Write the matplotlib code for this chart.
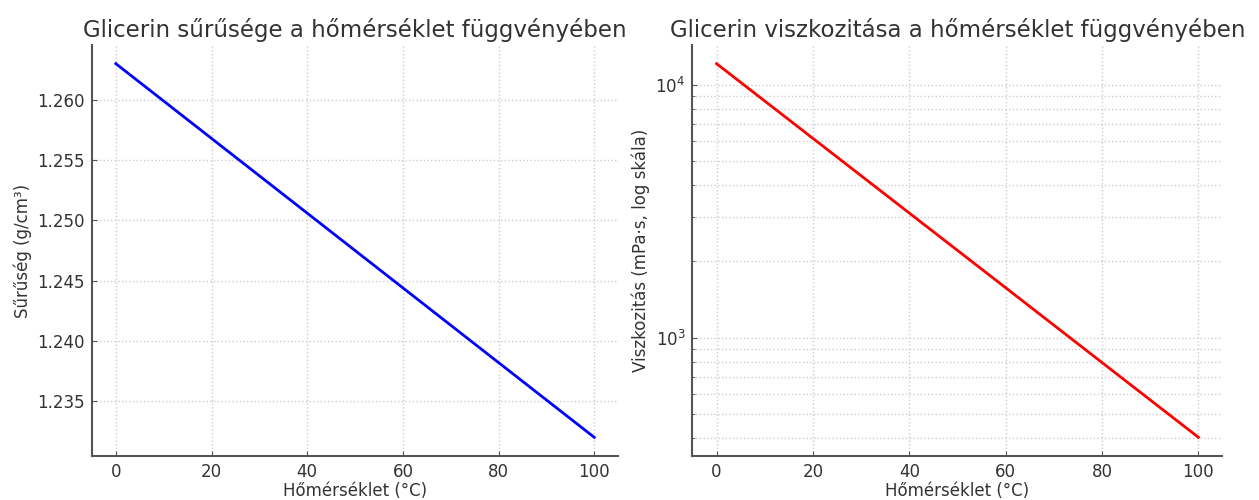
import matplotlib
matplotlib.use("Agg")
import matplotlib.pyplot as plt

# temperature in C
temps = [0, 20, 40, 60, 80, 100]
# density in g/cm3
density = [1.263, 1.2568, 1.2506, 1.2444, 1.2382, 1.232]
# viscosity in mPa*s (log scale)
viscosity = [12100, 6130, 3105, 1573, 796, 403]

plt.rcParams['font.family'] = 'DejaVu Sans'
plt.rcParams['axes.edgecolor'] = '#555555'
plt.rcParams['xtick.color'] = '#555555'
plt.rcParams['ytick.color'] = '#555555'
plt.rcParams['xtick.labelcolor'] = '#333333'
plt.rcParams['ytick.labelcolor'] = '#333333'

fig = plt.figure(figsize=(12.59, 5), dpi=100)
ax1 = fig.add_axes([0.073, 0.088, 0.418, 0.822])
ax2 = fig.add_axes([0.55, 0.088, 0.421, 0.822])

for ax in (ax1, ax2):
    ax.spines['top'].set_visible(False)
    ax.spines['right'].set_visible(False)
    ax.spines['left'].set_linewidth(1.5)
    ax.spines['bottom'].set_linewidth(1.5)
    ax.tick_params(which='both', direction='in', labelsize=12, pad=5)
    ax.set_xticks([0, 20, 40, 60, 80, 100])

ax1.plot(temps, density, color='blue', linewidth=2)
ax1.set_title("Glicerin sűrűsége a hőmérséklet függvényében", fontsize=16.5, color='#333333')
ax1.set_xlabel("Hőmérséklet (°C)", fontsize=12, color='#333333', labelpad=1)
ax1.set_ylabel("Sűrűség (g/cm³)", fontsize=12, color='#333333')
ax1.grid(True, linestyle=':', color='#cccccc', linewidth=1)

ax2.plot(temps, viscosity, color='red', linewidth=2)
ax2.set_yscale('log')
ax2.set_title("Glicerin viszkozitása a hőmérséklet függvényében", fontsize=16.5, color='#333333')
ax2.set_xlabel("Hőmérséklet (°C)", fontsize=12, color='#333333', labelpad=1)
ax2.set_ylabel("Viszkozitás (mPa·s, log skála)", fontsize=12, color='#333333')
ax2.grid(True, which='both', linestyle=':', color='#cccccc', linewidth=1)

fig.savefig("out.png", dpi=100)
